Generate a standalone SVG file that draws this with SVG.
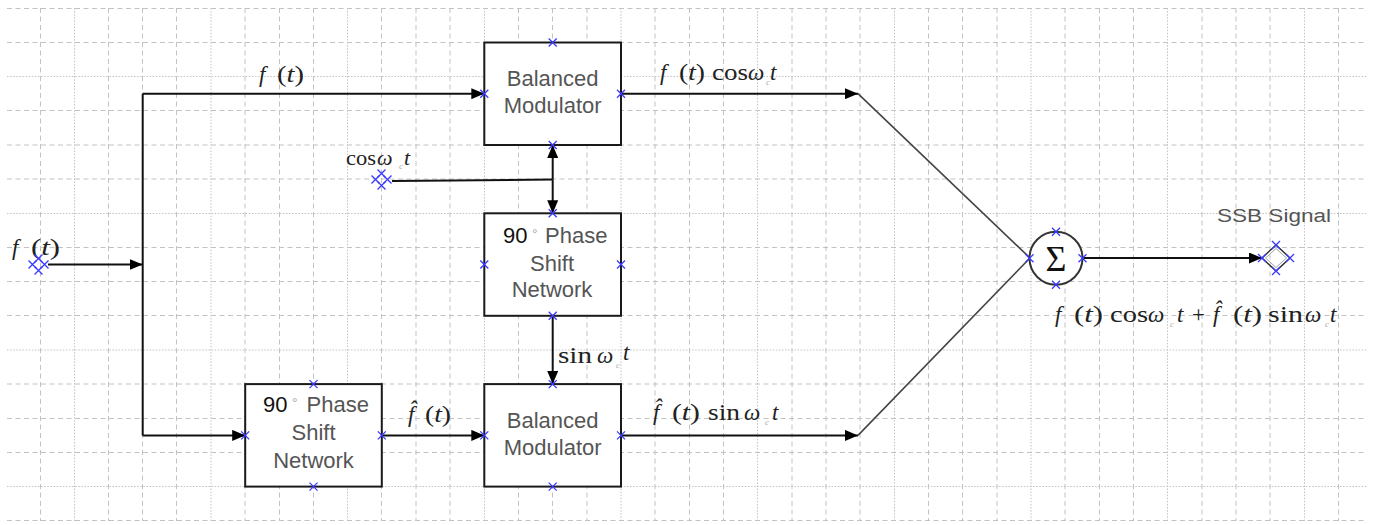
<svg xmlns="http://www.w3.org/2000/svg" xmlns:xlink="http://www.w3.org/1999/xlink" width="1380" height="525" viewBox="0 0 1380 525">
<style>
.gd{stroke:#c2c2c2;stroke-width:1;stroke-dasharray:5 3.5;fill:none}
.go{stroke:#c2c2c2;stroke-width:1;stroke-dasharray:1.5 1.6;fill:none}
.box{fill:#fff;stroke:#1a1a1a;stroke-width:2}
.lbl{font-family:"Liberation Sans",Arial,sans-serif;font-size:22px;fill:#555}
.blk{fill:#111}
.deg{font-size:14px;fill:#aaa}
.m{font-family:"Liberation Serif","Times New Roman",serif;font-size:23px;fill:#222}
.i{font-style:italic}
.sub{font-family:"Liberation Serif","Times New Roman",serif;font-size:9px;fill:#aaa;font-style:italic}
.xm{stroke:#3a3aff;stroke-width:1.3;fill:none}
.w{stroke:#111;stroke-width:2;fill:none}
.dg{stroke:#444;stroke-width:1.6;fill:none}
.ssb{font-family:"Liberation Sans",Arial,sans-serif;font-size:19px;fill:#555}
</style>
<defs>
<marker id="ah" viewBox="0 0 13 11" refX="13" refY="5.5" markerWidth="13" markerHeight="11" markerUnits="userSpaceOnUse" orient="auto"><path d="M0,0L13,5.5L0,11z" fill="#000"/></marker>
<path id="xm" class="xm" d="M-4,-4L4,4M-4,4L4,-4"/>
<g id="cl"><use href="#xm" x="0" y="-6"/><use href="#xm" x="-6" y="0"/><use href="#xm" x="6" y="0"/><use href="#xm" x="0" y="6"/></g>
</defs>
<rect width="1380" height="525" fill="#fff"/>
<g id="grid">
<path class="gd" d="M7 8.5H1367M7 42.5H1367M7 110.5H1367M7 145H1367M7 179H1367M7 247.5H1367M7 281.5H1367M7 315.5H1367M7 384H1367M7 418.5H1367M7 452.5H1367M7 520.5H1367"/>
<path class="go" d="M7 76.5H1367M7 213.5H1367M7 350H1367M7 486.5H1367"/>
<path class="gd" d="M40.5 8V521M108.5 8V521M142.5 8V521M176.5 8V521M245 8V521M279.5 8V521M313.5 8V521M381.5 8V521M416 8V521M450 8V521M518.5 8V521M552.5 8V521M587 8V521M655 8V521M689.5 8V521M723.5 8V521M792 8V521M826 8V521M860 8V521M928.5 8V521M962.5 8V521M997 8V521M1065 8V521M1099.5 8V521M1133.5 8V521M1202 8V521M1236 8V521M1270 8V521M1338.5 8V521"/>
<path class="go" d="M74.5 8V521M211 8V521M347.5 8V521M484.5 8V521M621 8V521M757.5 8V521M894.5 8V521M1031 8V521M1167.5 8V521M1304.5 8V521"/>
</g>
<g id="connectors">
<path class="w" d="M48,264.5H142.7" marker-end="url(#ah)"/>
<path class="w" d="M142.7,93.7V435.4"/>
<path class="w" d="M142.7,93.7H484.3" marker-end="url(#ah)"/>
<path class="w" d="M142.7,435.4H245.2" marker-end="url(#ah)"/>
<path class="w" d="M381.8,435.4H484.3" marker-end="url(#ah)"/>
<path class="w" d="M621,93.7H858" marker-end="url(#ah)"/>
<path class="dg" d="M858,93.7L1030,258"/>
<path class="w" d="M621,435.4H858" marker-end="url(#ah)"/>
<path class="dg" d="M858,435.4L1030,258"/>
<path class="w" d="M1082,258H1262" marker-end="url(#ah)"/>
<path class="w" d="M392,181L552.7,179.5"/>
<path class="w" d="M552.7,179.5V145" marker-end="url(#ah)"/>
<path class="w" d="M552.7,179.5V213.3" marker-end="url(#ah)"/>
<path class="w" d="M552.7,315.8V384.1" marker-end="url(#ah)"/>
</g>
<g id="connector-labels">
<text class="m i" x="259" y="82">f</text>
<text class="m" x="277" y="82" textLength="27" lengthAdjust="spacingAndGlyphs">(<tspan class="i">t</tspan>)</text>
<text class="m i" x="660" y="80">f</text>
<text class="m" x="679" y="80" textLength="26" lengthAdjust="spacingAndGlyphs">(<tspan class="i">t</tspan>)</text>
<text class="m" x="712" y="80" textLength="36" lengthAdjust="spacingAndGlyphs">cos</text>
<text class="m i" x="748" y="80">ω</text>
<text class="sub" x="766" y="85">c</text>
<text class="m i" x="770" y="80">t</text>
<text class="m" x="346" y="165" textLength="30" lengthAdjust="spacingAndGlyphs" style="font-size:22px">cos</text>
<text class="m i" x="377" y="165" style="font-size:22px">ω</text>
<text class="sub" x="399" y="169">c</text>
<text class="m i" x="404" y="165" style="font-size:22px">t</text>
<text class="m" x="558" y="363" textLength="34" lengthAdjust="spacingAndGlyphs">sin</text>
<text class="m i" x="597" y="363">ω</text>
<text class="sub" x="616" y="368">c</text>
<text class="m i" x="623" y="360">t</text>
<text class="m i" x="408" y="422">f̂</text>
<text class="m" x="425" y="422" textLength="26" lengthAdjust="spacingAndGlyphs">(<tspan class="i">t</tspan>)</text>
<text class="m i" x="653" y="420">f̂</text>
<text class="m" x="672" y="420" textLength="28" lengthAdjust="spacingAndGlyphs">(<tspan class="i">t</tspan>)</text>
<text class="m" x="708" y="420" textLength="32" lengthAdjust="spacingAndGlyphs">sin</text>
<text class="m i" x="744" y="420">ω</text>
<text class="sub" x="765" y="425">c</text>
<text class="m i" x="772" y="420">t</text>
</g>
<g id="n-input">
<text class="m i" x="12" y="255">f</text>
<text class="m" x="31" y="255" textLength="29" lengthAdjust="spacingAndGlyphs">(<tspan class="i">t</tspan>)</text>
<use href="#cl" x="38.5" y="264.5"/>
</g>
<g id="n-cos">
<use href="#cl" x="381.5" y="179.5"/>
</g>
<g id="n-bm-top">
<rect class="box" x="484.3" y="42.5" width="136.7" height="102.5"/>
<text class="lbl" x="552.7" y="86" text-anchor="middle">Balanced</text>
<text class="lbl" x="552.7" y="113" text-anchor="middle">Modulator</text>
<use href="#xm" x="552.7" y="42.5"/><use href="#xm" x="552.7" y="145"/><use href="#xm" x="484.3" y="93.7"/><use href="#xm" x="621" y="93.7"/>
</g>
<g id="n-ps-mid">
<rect class="box" x="484.3" y="213.3" width="136.7" height="102.5"/>
<text class="lbl blk" x="503" y="243">90</text>
<text class="lbl deg" x="532" y="239">°</text>
<text class="lbl" x="545" y="243">Phase</text>
<text class="lbl" x="552" y="271" text-anchor="middle">Shift</text>
<text class="lbl" x="552" y="297" text-anchor="middle">Network</text>
<use href="#xm" x="552.7" y="213.3"/><use href="#xm" x="552.7" y="315.8"/><use href="#xm" x="484.3" y="264.5"/><use href="#xm" x="621" y="264.5"/>
</g>
<g id="n-ps-bot">
<rect class="box" x="245.2" y="384.1" width="136.6" height="102.5"/>
<text class="lbl blk" x="263" y="412">90</text>
<text class="lbl deg" x="292" y="408">°</text>
<text class="lbl" x="306.5" y="412">Phase</text>
<text class="lbl" x="313.5" y="440" text-anchor="middle">Shift</text>
<text class="lbl" x="313.5" y="468" text-anchor="middle">Network</text>
<use href="#xm" x="313.5" y="384.1"/><use href="#xm" x="313.5" y="486.6"/><use href="#xm" x="245.2" y="435.4"/><use href="#xm" x="381.8" y="435.4"/>
</g>
<g id="n-bm-bot">
<rect class="box" x="484.3" y="384.1" width="136.7" height="102.5"/>
<text class="lbl" x="552.7" y="428" text-anchor="middle">Balanced</text>
<text class="lbl" x="552.7" y="455" text-anchor="middle">Modulator</text>
<use href="#xm" x="552.7" y="384.1"/><use href="#xm" x="552.7" y="486.6"/><use href="#xm" x="484.3" y="435.4"/><use href="#xm" x="621" y="435.4"/>
</g>
<g id="n-sum">
<circle cx="1056" cy="258.3" r="26.5" fill="#fff" stroke="#333" stroke-width="2"/>
<text x="1056" y="271" text-anchor="middle" style="font-family:'Liberation Serif','Times New Roman',serif;font-size:36px;fill:#111">Σ</text>
<use href="#xm" x="1056" y="231.8"/><use href="#xm" x="1056" y="284.8"/><use href="#xm" x="1029.5" y="258.3"/><use href="#xm" x="1082.5" y="258.3"/>
</g>
<g id="n-output">
<polygon points="1262,258 1276,245 1290,258 1276,271" fill="none" stroke="#222" stroke-width="1.3"/>
<polygon points="1265.5,258 1276,248.5 1286.5,258 1276,267.5" fill="none" stroke="#888" stroke-width="0.8"/>
<use href="#xm" x="1262" y="258"/><use href="#xm" x="1276" y="245"/><use href="#xm" x="1290" y="258"/><use href="#xm" x="1276" y="271"/>
<text class="ssb" x="1217" y="222" textLength="114" lengthAdjust="spacingAndGlyphs">SSB Signal</text>
<text class="m i" x="1055" y="322">f</text>
<text class="m" x="1074" y="322" textLength="29" lengthAdjust="spacingAndGlyphs">(<tspan class="i">t</tspan>)</text>
<text class="m" x="1110" y="322" textLength="38" lengthAdjust="spacingAndGlyphs">cos</text>
<text class="m i" x="1148" y="322">ω</text>
<text class="sub" x="1170" y="327">c</text>
<text class="m i" x="1177" y="322">t</text>
<text class="m" x="1192" y="322">+</text>
<text class="m i" x="1213" y="322">f̂</text>
<text class="m" x="1233" y="322" textLength="29" lengthAdjust="spacingAndGlyphs">(<tspan class="i">t</tspan>)</text>
<text class="m" x="1268" y="322" textLength="35" lengthAdjust="spacingAndGlyphs">sin</text>
<text class="m i" x="1305" y="322">ω</text>
<text class="sub" x="1325" y="327">c</text>
<text class="m i" x="1330" y="322">t</text>
</g>
</svg>
